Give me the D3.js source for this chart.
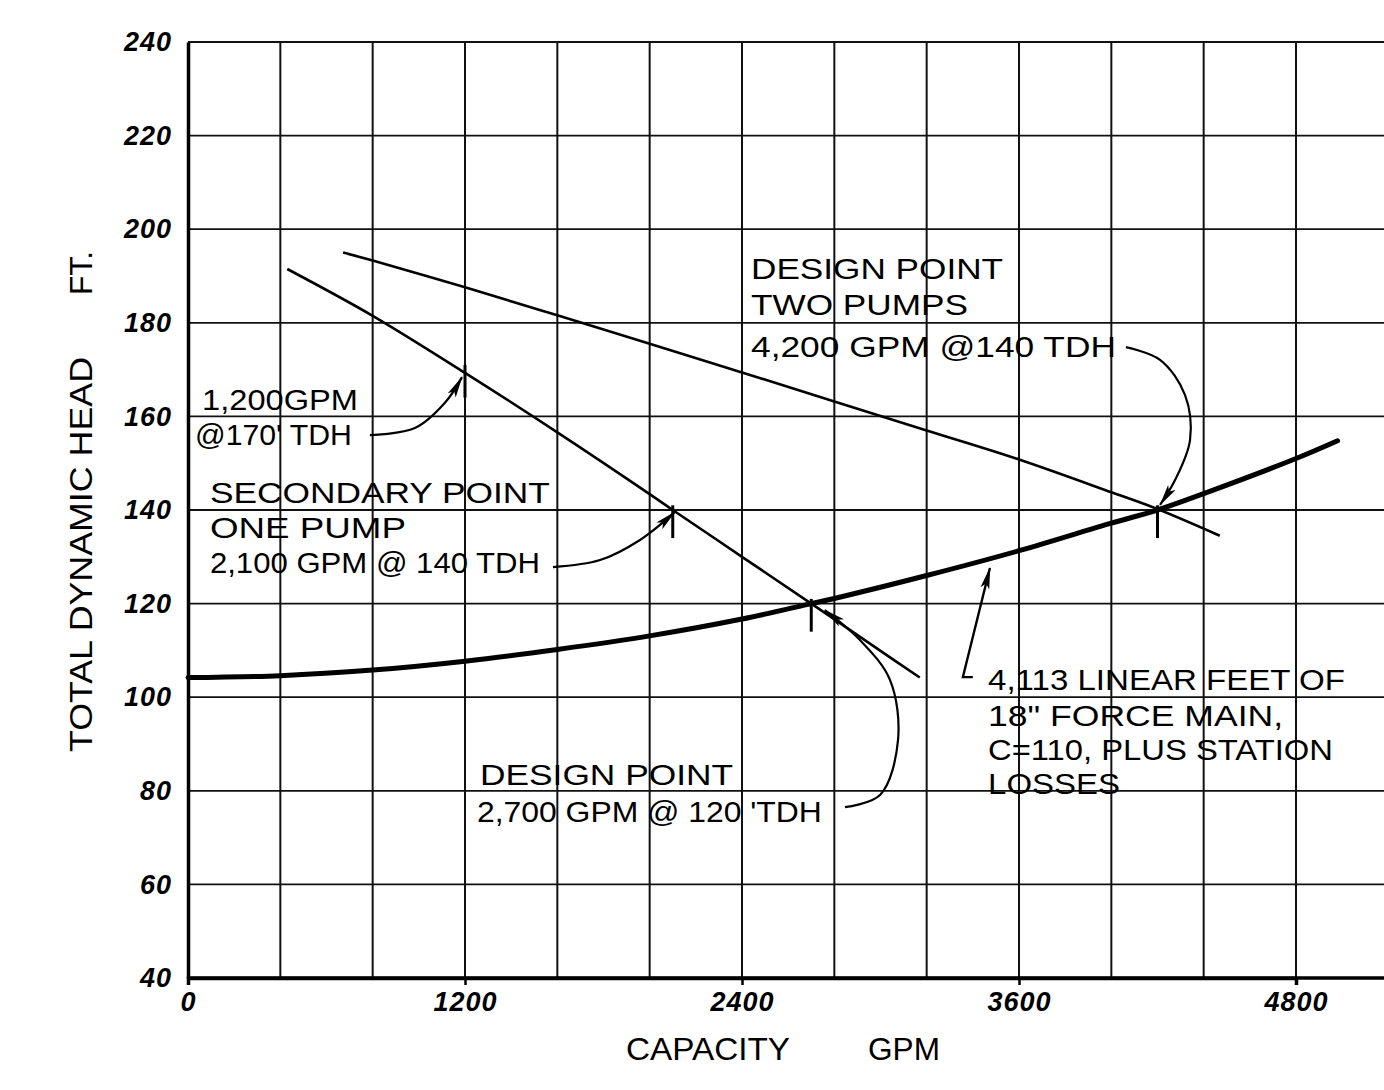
<!DOCTYPE html>
<html>
<head>
<meta charset="utf-8">
<script src="https://cdn.jsdelivr.net/npm/d3@7"></script>
<style>
  body { margin: 0; background: #fff; }
  svg { display: block; }
</style>
</head>
<body>
<script>
// values
const gpmTicks = [0, 1200, 2400, 3600, 4800];
const headTicks = [40, 60, 80, 100, 120, 140, 160, 180, 200, 220, 240];

// system curve: 4,113 ft of 18" force main + station losses
const systemGpm = [0, 400, 800, 1200, 1600, 2000, 2400, 2700, 2800, 3200, 3600, 4000, 4200, 4400, 4800, 4980];
const systemHead = [104.2, 104.6, 105.8, 107.7, 110.2, 113.1, 116.7, 120.0, 121.1, 126.0, 131.3, 137.2, 140.0, 143.5, 151.0, 154.8];

// one pump running
const onePumpGpm = [430, 800, 1200, 1600, 2000, 2100, 2400, 2700, 3000, 3170];
const onePumpHead = [191.5, 181.5, 169.3, 156.6, 143.4, 140.0, 130.0, 120.0, 109.9, 104.2];

// two pumps running
const twoPumpGpm = [672, 800, 1200, 1600, 2000, 2400, 2800, 3200, 3600, 4000, 4200, 4470];
const twoPumpHead = [195.0, 193.3, 187.6, 181.6, 175.5, 169.4, 163.2, 157.0, 150.8, 143.8, 140.2, 134.5];

// operating points marked on the sheet
const pointGpm = [1200, 2100, 2700, 4200];
const pointHead = [170, 140, 120, 140];

// handwritten notes: text, start gpm, end gpm, baseline head
const noteText = [
  "1,200GPM", "@170' TDH",
  "SECONDARY POINT", "ONE PUMP", "2,100 GPM @ 140 TDH",
  "DESIGN POINT", "2,700 GPM @ 120 'TDH",
  "DESIGN POINT", "TWO PUMPS", "4,200 GPM @140 TDH",
  "4,113 LINEAR FEET OF", "18\" FORCE MAIN,", "C=110, PLUS STATION", "LOSSES"
];
const noteStart = [61, 30, 95, 95, 95, 1265, 1252, 2439, 2439, 2439, 3466, 3466, 3466, 3466];
const noteEnd = [736, 710, 1568, 944, 1525, 2361, 2746, 3531, 3379, 4020, 5012, 4744, 4960, 4037];
const noteHead = [161.4, 153.9, 141.5, 134.0, 126.5, 81.2, 73.3, 189.4, 181.7, 172.7, 101.5, 93.85, 86.6, 79.3];

// leader arrows from the notes to the points [gpm, head]
const leaders = [
  [[788, 156.0], [983, 157.5], [1113, 162.9], [1187, 168.4]],
  [[1581, 127.8], [1785, 129.3], [1958, 133.6], [2110, 139.6]],
  [[2846, 76.5], [2998, 79.1], [3076, 90.9], [3041, 103.7], [2911, 112.2], [2759, 118.6]],
  [[4063, 174.8], [4211, 172.1], [4319, 164.6], [4341, 155.0], [4276, 146.4], [4211, 141.1]]
];
const systemLeader = [[3400, 104.3], [3357, 104.3], [3474, 127.6]];

const w = 1384;
const h = 1090;

const x = d3.scaleLinear().domain([0, 4800]).range([188, 1296]);
const y = d3.scaleLinear().domain([40, 240]).range([978, 42]);

const svg = d3.select("body").append("svg").attr("width", w).attr("height", h);
svg.append("rect").attr("width", w).attr("height", h).attr("fill", "#fff");

const defs = svg.append("defs");
defs.append("marker")
  .attr("id", "head")
  .attr("viewBox", "0 -5 22 10")
  .attr("refX", 21)
  .attr("refY", 0)
  .attr("markerUnits", "userSpaceOnUse")
  .attr("markerWidth", 22)
  .attr("markerHeight", 10)
  .attr("orient", "auto")
  .append("path")
  .attr("d", "M0,-4.5L22,0L0,4.5L5,0Z")
  .attr("fill", "#000");

// grid
const xMax = x.invert(w);
svg.append("g")
  .selectAll("line")
  .data(headTicks)
  .join("line")
  .attr("x1", x(0))
  .attr("x2", x(xMax))
  .attr("y1", (d) => y(d))
  .attr("y2", (d) => y(d))
  .attr("stroke", "#111")
  .attr("stroke-width", 1.8);

svg.append("g")
  .selectAll("line")
  .data(d3.range(400, 4801, 400))
  .join("line")
  .attr("x1", (d) => x(d))
  .attr("x2", (d) => x(d))
  .attr("y1", y(40))
  .attr("y2", y(240))
  .attr("stroke", "#111")
  .attr("stroke-width", 2);

// axes
const yAxis = d3.axisLeft(y).tickValues(headTicks).tickSize(0).tickPadding(16);
const gy = svg.append("g").attr("transform", "translate(" + x(0) + ",0)").call(yAxis);
gy.select(".domain").attr("stroke", "#000").attr("stroke-width", 3.5);
gy.selectAll("text")
  .attr("font-family", "Liberation Sans, Arial, sans-serif")
  .attr("font-style", "italic")
  .attr("font-weight", "bold")
  .attr("font-size", 27)
  .attr("letter-spacing", 1)
  .attr("fill", "#000");

const xAxis = d3.axisBottom(x).tickValues(gpmTicks).tickSize(7).tickPadding(7)
  .tickFormat(d3.format("d"));
const gx = svg.append("g").attr("transform", "translate(0," + y(40) + ")").call(xAxis);
gx.select(".domain").attr("stroke", "#000").attr("stroke-width", 3.5);
gx.selectAll(".tick line").attr("stroke", "#000").attr("stroke-width", 2.5);
gx.selectAll("text")
  .attr("font-family", "Liberation Sans, Arial, sans-serif")
  .attr("font-style", "italic")
  .attr("font-weight", "bold")
  .attr("font-size", 27)
  .attr("letter-spacing", 1)
  .attr("fill", "#000");
// extend the bottom axis line to the edge
svg.append("line")
  .attr("x1", x(0)).attr("x2", x(xMax))
  .attr("y1", y(40)).attr("y2", y(40))
  .attr("stroke", "#000").attr("stroke-width", 3.5);

// axis titles
svg.append("text")
  .attr("transform", "translate(92," + 752 + ") rotate(-90)")
  .attr("font-family", "Liberation Sans, Arial, sans-serif")
  .attr("font-size", 32)
  .attr("textLength", 395)
  .attr("lengthAdjust", "spacingAndGlyphs")
  .text("TOTAL DYNAMIC HEAD");
svg.append("text")
  .attr("transform", "translate(92," + 295 + ") rotate(-90)")
  .attr("font-family", "Liberation Sans, Arial, sans-serif")
  .attr("font-size", 32)
  .attr("textLength", 44)
  .attr("lengthAdjust", "spacingAndGlyphs")
  .text("FT.");

svg.append("text")
  .attr("x", 626).attr("y", 1060)
  .attr("font-family", "Liberation Sans, Arial, sans-serif")
  .attr("font-size", 32)
  .attr("textLength", 164)
  .attr("lengthAdjust", "spacingAndGlyphs")
  .text("CAPACITY");
svg.append("text")
  .attr("x", 868).attr("y", 1060)
  .attr("font-family", "Liberation Sans, Arial, sans-serif")
  .attr("font-size", 32)
  .attr("textLength", 72)
  .attr("lengthAdjust", "spacingAndGlyphs")
  .text("GPM");

// curves
const line = d3.line()
  .x((d) => x(d[0]))
  .y((d) => y(d[1]))
  .curve(d3.curveCatmullRom.alpha(0.5));

const toPts = (a, b) => a.map((v, i) => [v, b[i]]);

svg.append("path")
  .datum(toPts(twoPumpGpm, twoPumpHead))
  .attr("d", line)
  .attr("fill", "none")
  .attr("stroke", "#000")
  .attr("stroke-width", 2.6);

svg.append("path")
  .datum(toPts(onePumpGpm, onePumpHead))
  .attr("d", line)
  .attr("fill", "none")
  .attr("stroke", "#000")
  .attr("stroke-width", 2.6);

svg.append("path")
  .datum(toPts(systemGpm, systemHead))
  .attr("d", line)
  .attr("fill", "none")
  .attr("stroke", "#000")
  .attr("stroke-width", 5)
  .attr("stroke-linecap", "round");

// small vertical marks at the operating points
svg.append("g")
  .selectAll("line")
  .data(pointGpm)
  .join("line")
  .attr("x1", (d) => x(d))
  .attr("x2", (d) => x(d))
  .attr("y1", (d, i) => y(pointHead[i] + 1))
  .attr("y2", (d, i) => y(pointHead[i] - 6))
  .attr("stroke", "#000")
  .attr("stroke-width", 3);

// leaders
const leaderLine = d3.line()
  .x((d) => x(d[0]))
  .y((d) => y(d[1]))
  .curve(d3.curveCatmullRom.alpha(0.5));

svg.append("g")
  .selectAll("path")
  .data(leaders)
  .join("path")
  .attr("d", leaderLine)
  .attr("fill", "none")
  .attr("stroke", "#000")
  .attr("stroke-width", 2.2)
  .attr("marker-end", "url(#head)");

svg.append("path")
  .datum(systemLeader)
  .attr("d", leaderLine.curve(d3.curveLinear))
  .attr("fill", "none")
  .attr("stroke", "#000")
  .attr("stroke-width", 2.4)
  .attr("marker-end", "url(#head)");

// notes
svg.append("g")
  .selectAll("text")
  .data(noteText)
  .join("text")
  .attr("x", (d, i) => x(noteStart[i]))
  .attr("y", (d, i) => y(noteHead[i]))
  .attr("textLength", (d, i) => x(noteEnd[i]) - x(noteStart[i]))
  .attr("lengthAdjust", "spacingAndGlyphs")
  .attr("font-family", "Liberation Sans, Arial, sans-serif")
  .attr("font-size", 30)
  .attr("fill", "#000")
  .text((d) => d);
</script>
</body>
</html>
